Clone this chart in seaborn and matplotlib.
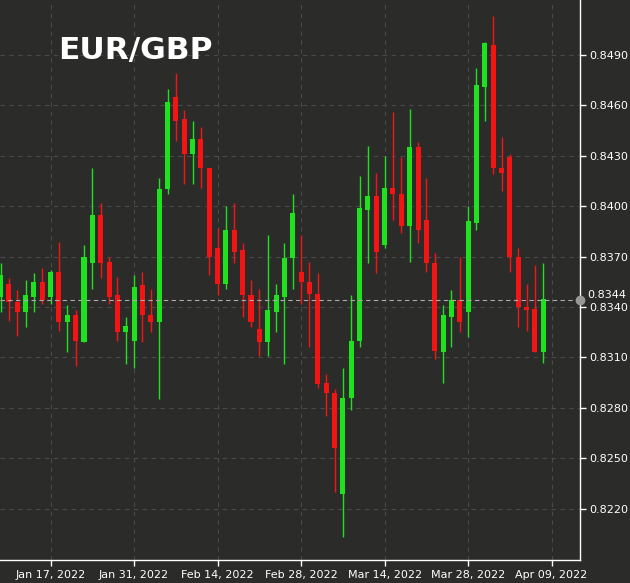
import numpy as np
import pandas as pd
import matplotlib
matplotlib.use("Agg")
import matplotlib.pyplot as plt
import seaborn as sns

opens  = [.8346,.8354,.8343,.8337,.8346,.8355,.8346,.8361,.8331,.8335,.8319,.8366,.8395,.8367,.8347,.8325,.8320,.8353,.8335,.8331,
          .8410,.8465,.8452,.8431,.8440,.8423,.8375,.8354,.8386,.8374,.8347,.8327,.8319,.8337,.8346,.8369,.8361,.8355,.8348,.8295,
          .8289,.8229,.8286,.8320,.8398,.8406,.8377,.8411,.8407,.8388,.8435,.8392,.8366,.8313,.8334,.8344,.8337,.8390,.8471,.8496,
          .8423,.8429,.8370,.8340,.8339,.8313]
highs  = [.8366,.8357,.8350,.8356,.8360,.8363,.8362,.8379,.8341,.8338,.8377,.8423,.8402,.8370,.8358,.8334,.8359,.8361,.8351,.8417,
          .8470,.8479,.8457,.8451,.8447,.8423,.8387,.8400,.8402,.8378,.8356,.8351,.8383,.8354,.8378,.8407,.8383,.8367,.8360,.8300,
          .8291,.8304,.8347,.8418,.8436,.8420,.8430,.8456,.8429,.8458,.8438,.8417,.8372,.8341,.8350,.8370,.8400,.8482,.8498,.8513,
          .8441,.8431,.8375,.8354,.8365,.8366]
lows   = [.8337,.8332,.8323,.8328,.8337,.8342,.8342,.8326,.8313,.8305,.8319,.8351,.8357,.8342,.8320,.8306,.8304,.8319,.8325,.8285,
          .8407,.8439,.8413,.8413,.8411,.8359,.8347,.8351,.8366,.8334,.8328,.8311,.8311,.8325,.8306,.8351,.8342,.8316,.8292,.8275,
          .8230,.8203,.8279,.8316,.8366,.8360,.8375,.8392,.8384,.8367,.8378,.8361,.8309,.8295,.8316,.8325,.8322,.8386,.8451,.8419,
          .8409,.8361,.8328,.8326,.8313,.8307]
closes = [.8359,.8343,.8337,.8347,.8355,.8344,.8361,.8331,.8335,.8320,.8370,.8395,.8366,.8346,.8325,.8329,.8352,.8335,.8331,.8410,
          .8462,.8451,.8431,.8440,.8423,.8370,.8354,.8386,.8373,.8347,.8331,.8319,.8338,.8347,.8369,.8396,.8355,.8348,.8294,.8289,
          .8256,.8286,.8320,.8399,.8406,.8373,.8411,.8407,.8388,.8435,.8386,.8366,.8314,.8335,.8344,.8331,.8391,.8472,.8497,.8423,
          .8420,.8370,.8340,.8338,.8313,.8345]
tick_pos = [6, 16, 26, 36, 46, 56, 66]
tick_labels = ["Jan 17, 2022", "Jan 31, 2022", "Feb 14, 2022", "Feb 28, 2022", "Mar 14, 2022", "Mar 28, 2022", "Apr 09, 2022"]
y_ticks = [0.8220, 0.8250, 0.8280, 0.8310, 0.8340, 0.8370, 0.8400, 0.8430, 0.8460, 0.8490]
last_price = 0.8344

df = pd.DataFrame({"o": opens, "h": highs, "l": lows, "c": closes})
df["i"] = np.arange(len(df))
df["up"] = df["c"] >= df["o"]

BG = "#2b2c2a"
GREEN = "#1fe21f"
RED = "#f41414"
sns.set_theme(style="dark", rc={"axes.facecolor": BG, "figure.facecolor": BG})

fig = plt.figure(figsize=(6.3, 5.83), dpi=100)
ax = fig.add_axes([0, 23/583, 580/630, 560/583])
ax.set_facecolor(BG)

colors = np.where(df["up"], GREEN, RED)
ax.vlines(df["i"], df["l"], df["h"], colors=colors, linewidth=1)
bottoms = np.minimum(df["o"], df["c"])
heights = np.maximum(np.abs(df["c"] - df["o"]), 0.00003)
ax.bar(df["i"], heights, bottom=bottoms, width=0.6, color=colors, linewidth=0)

ax.set_xlim(-0.06, 69.4)
ax.set_ylim(0.81895, 0.85227)
ax.set_xticks(tick_pos)
ax.set_xticklabels(tick_labels)
ax.yaxis.tick_right()
ax.set_yticks(y_ticks)
ax.set_yticklabels([f"{v:.4f}" for v in y_ticks])
ax.tick_params(colors="white", labelsize=8, length=4, width=1, direction="out",
               bottom=True, right=True, left=False, pad=3)
ax.grid(True, color="#4a4a4a", linestyle=(0, (4, 4)), linewidth=0.8)
for s in ["top", "left"]:
    ax.spines[s].set_visible(False)
for s in ["bottom", "right"]:
    ax.spines[s].set_color("white")
    ax.spines[s].set_linewidth(1)

ax.axhline(last_price, color="#aaaaaa", linestyle=(0, (4, 3)), linewidth=0.8)
ax.plot([69.4], [last_price], "o", color="#999999", markersize=6, clip_on=False, zorder=5)
ax.text(1.012, last_price, f"{last_price:.4f}", transform=ax.get_yaxis_transform(),
        color="white", fontsize=8, va="bottom")

ax.text(0.1, 0.91, "EUR/GBP", transform=ax.transAxes, color="white",
        fontsize=22.5, fontweight="bold", va="center", ha="left")

fig.savefig("out.png", dpi=100, facecolor=BG)
